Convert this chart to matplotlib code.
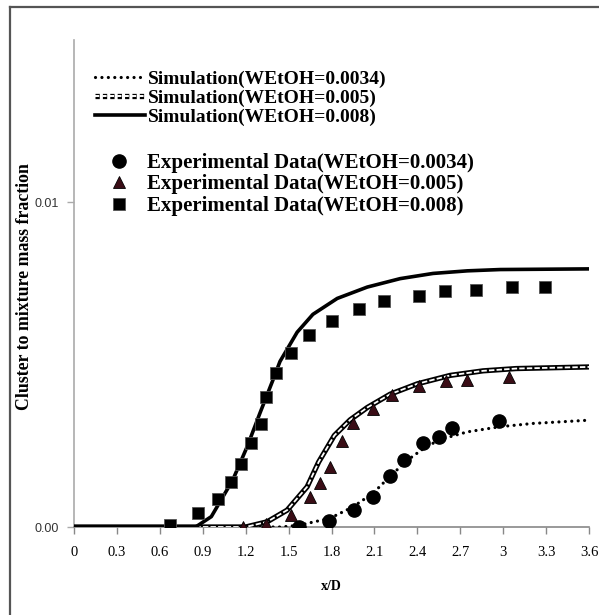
import matplotlib
matplotlib.use("Agg")
import matplotlib.pyplot as plt
from matplotlib.lines import Line2D
import matplotlib.patheffects as pe

# Simulated cluster-to-mixture mass fraction along the jet axis
sim_x_0034 = [0, 1.45, 1.58, 1.79, 1.95, 2.09, 2.23, 2.35, 2.47, 2.58, 2.75, 2.98, 3.21, 3.6]
sim_y_0034 = [0, 0, 0.00006, 0.00027, 0.00062, 0.00104, 0.00165, 0.00212, 0.00250,
              0.00272, 0.00293, 0.00309, 0.00319, 0.00329]

sim_x_005 = [0, 1.2, 1.35, 1.49, 1.63, 1.71, 1.82, 1.93, 2.05, 2.21, 2.40, 2.63, 2.86, 3.09, 3.6]
sim_y_005 = [0, 0, 0.00016, 0.00052, 0.00124, 0.00200, 0.00282, 0.00330, 0.00368, 0.00409,
             0.00441, 0.00467, 0.00481, 0.00488, 0.00493]

sim_x_008 = [0, 0.85, 0.96, 1.11, 1.21, 1.30, 1.39, 1.44, 1.56, 1.67, 1.84, 2.05, 2.28,
             2.51, 2.75, 2.98, 3.6]
sim_y_008 = [0, 0, 0.00032, 0.00145, 0.00247, 0.00351, 0.00452, 0.00510, 0.00600, 0.00655,
             0.00704, 0.00739, 0.00765, 0.00781, 0.00789, 0.00793, 0.00795]

# Measured values
exp_x_0034 = [1.57, 1.78, 1.96, 2.09, 2.21, 2.31, 2.44, 2.55, 2.64, 2.97]
exp_y_0034 = [0.0, 0.00019, 0.00052, 0.00093, 0.00158, 0.00206, 0.00258, 0.00278, 0.00304, 0.00326]

exp_x_005 = [1.18, 1.34, 1.52, 1.65, 1.72, 1.79, 1.87, 1.95, 2.09, 2.22, 2.41, 2.60, 2.75, 3.04]
exp_y_005 = [0.0, 0.00009, 0.00037, 0.00092, 0.00136, 0.00186, 0.00264, 0.00319, 0.00363,
             0.00406, 0.00434, 0.00450, 0.00452, 0.00462]

exp_x_008 = [0.67, 0.87, 1.01, 1.10, 1.17, 1.24, 1.31, 1.34, 1.41, 1.52, 1.64, 1.80, 1.99,
             2.17, 2.41, 2.59, 2.81, 3.06, 3.29]
exp_y_008 = [0.00005, 0.00042, 0.00086, 0.00138, 0.00193, 0.00258, 0.00318, 0.00401, 0.00473,
             0.00536, 0.00592, 0.00636, 0.00671, 0.00695, 0.00711, 0.00728, 0.00730, 0.00738,
             0.00738]

x_ticks = [0, 0.3, 0.6, 0.9, 1.2, 1.5, 1.8, 2.1, 2.4, 2.7, 3, 3.3, 3.6]
x_tick_labels = ["0", "0.3", "0.6", "0.9", "1.2", "1.5", "1.8", "2.1", "2.4", "2.7", "3", "3.3", "3.6"]
y_ticks = [0.0, 0.01]
y_tick_labels = ["0.00", "0.01"]

sim_labels = ["Simulation(WEtOH=0.0034)", "Simulation(WEtOH=0.005)", "Simulation(WEtOH=0.008)"]
exp_labels = ["Experimental Data(WEtOH=0.0034)", "Experimental Data(WEtOH=0.005)",
              "Experimental Data(WEtOH=0.008)"]

SERIF = "Liberation Serif"
TRI_COLOR = "#3a0d16"
DOTS = (0, (0.01, 2.0))

fig = plt.figure(figsize=(5.99, 6.15), dpi=100)
ax = fig.add_axes([74 / 599, 1 - 527 / 615, 515 / 599, 487 / 615])

# simulation curves
ax.plot(sim_x_0034, sim_y_0034, color="black", lw=2.3, linestyle=DOTS,
        dash_capstyle="round", zorder=3)
ax.plot(sim_x_005, sim_y_005, color="black", lw=3.8, zorder=3)
ax.plot(sim_x_005, sim_y_005, color="white", lw=1.3, linestyle=(0, (3, 1.2)), zorder=3)
ax.plot(sim_x_008, sim_y_008, color="black", lw=2.6, zorder=3)

# experimental points
m_c, = ax.plot(exp_x_0034, exp_y_0034, "o", color="black", ms=9.5, linestyle="none", zorder=4)
m_t, = ax.plot(exp_x_005, exp_y_005, "^", mfc=TRI_COLOR, mec="black", mew=0.6, ms=8.5,
               linestyle="none", zorder=4)
m_s, = ax.plot(exp_x_008, exp_y_008, "s", color="black", mec="#555555", mew=0.6, ms=8,
               linestyle="none", zorder=4)

ax.set_xlim(0, 3.6)
ax.set_ylim(0, 0.015)
ax.set_xticks(x_ticks)
ax.set_xticklabels(x_tick_labels, fontfamily=SERIF, fontsize=10.5)
ax.set_yticks(y_ticks)
ax.set_yticklabels(y_tick_labels, fontfamily="Liberation Sans", fontsize=9, color="#333333")
ax.tick_params(axis="x", direction="out", length=5, width=1, color="#888888", pad=9)
ax.tick_params(axis="y", direction="out", length=5, width=1, color="#aaaaaa", pad=6)
for side in ("top", "right"):
    ax.spines[side].set_visible(False)
ax.spines["left"].set_color("#aaaaaa")
ax.spines["left"].set_linewidth(1.2)
ax.spines["bottom"].set_color("#888888")
ax.spines["bottom"].set_linewidth(1.2)

ax.set_xlabel("x/D", fontfamily=SERIF, fontweight="bold", fontsize=10, labelpad=15)
fig.text(25 / 599, 1 - 287 / 615, "Cluster to mixture mass fraction", rotation=90,
         fontfamily=SERIF, fontweight="bold", fontsize=12.8, ha="center", va="center")

# legend keys
h_dot = Line2D([], [], color="black", lw=2.3, linestyle=DOTS, dash_capstyle="round")
h_dash = Line2D([], [], color="white", lw=1.4, linestyle=(0, (2.2, 1.6)),
                path_effects=[pe.Stroke(linewidth=3.8, foreground="black"), pe.Normal()])
h_sol = Line2D([], [], color="black", lw=2.6)

leg1 = ax.legend([h_dot, h_dash, h_sol], sim_labels, loc="upper left",
                 bbox_to_anchor=(21 / 515, 1 - 30 / 487), frameon=False,
                 prop={"family": SERIF, "weight": "bold", "size": 14},
                 handlelength=2.55, handletextpad=0.15, labelspacing=0.07,
                 borderaxespad=0, borderpad=0)
ax.add_artist(leg1)
leg2 = ax.legend([m_c, m_t, m_s], exp_labels, loc="upper left",
                 bbox_to_anchor=(21 / 515, 1 - 113 / 487), frameon=False,
                 prop={"family": SERIF, "weight": "bold", "size": 15},
                 handlelength=2.35, handletextpad=0.15, labelspacing=0.07, borderaxespad=0,
                 borderpad=0)

# outer frame of the figure
fig.add_artist(Line2D([10 / 599, 10 / 599], [0, 1 - 7 / 615], color="#555555", lw=1.6))
fig.add_artist(Line2D([10 / 599, 1], [1 - 7 / 615, 1 - 7 / 615], color="#555555", lw=1.6))

fig.savefig("out.png", dpi=100)
